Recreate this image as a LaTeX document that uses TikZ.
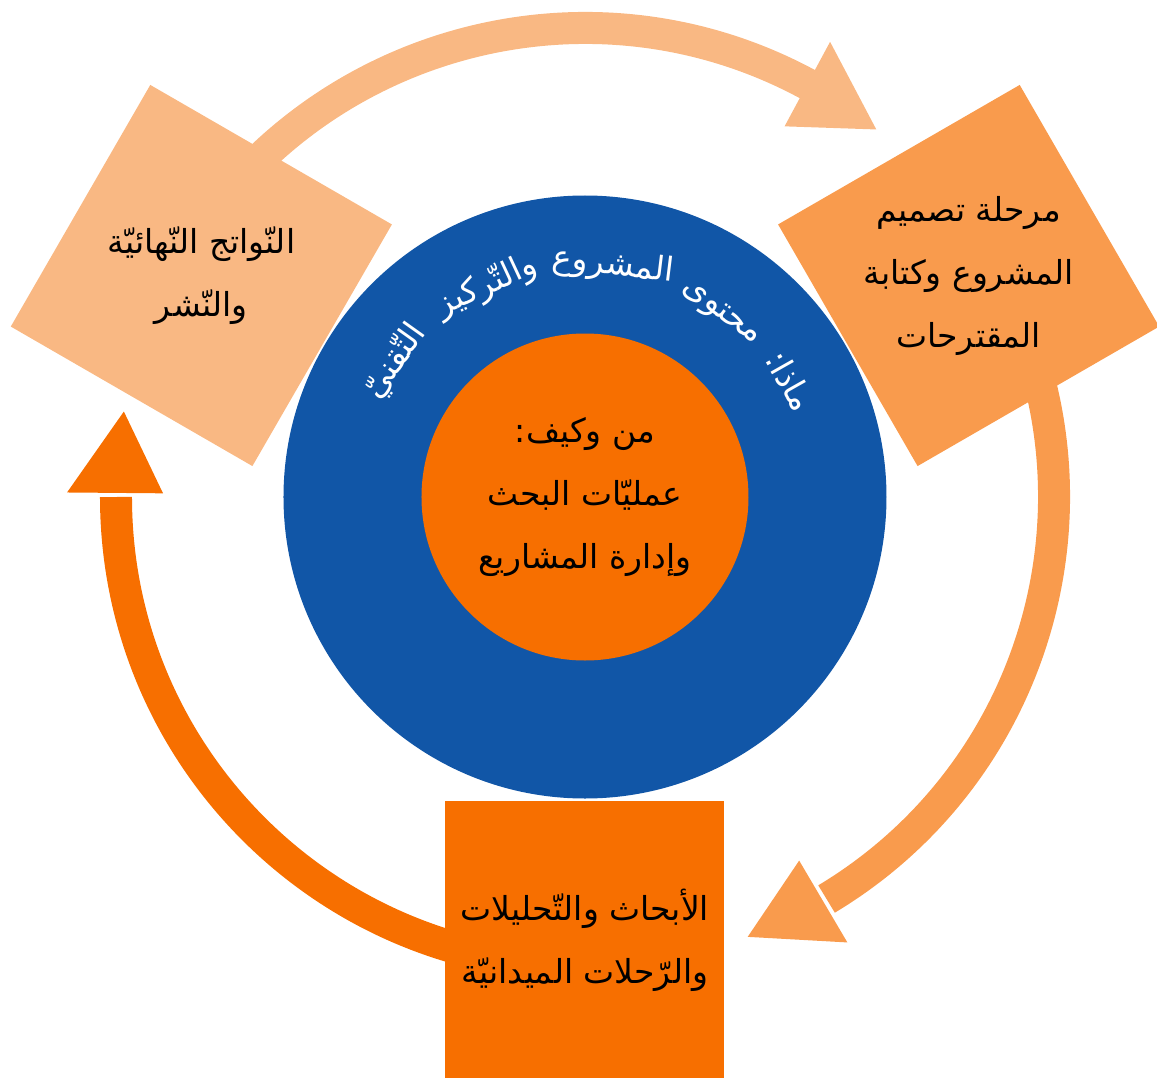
\documentclass[tikz,border=0pt]{standalone}
\usepackage{fontspec}
\newfontfamily\arabicfont[Script=Arabic]{DejaVu Sans}
\TeXXeTstate=1
\definecolor{lightor}{RGB}{249,184,131}
\definecolor{midor}{RGB}{249,155,77}
\definecolor{darkor}{RGB}{247,111,0}
\definecolor{coreblue}{RGB}{17,86,167}
\newcommand{\ar}[1]{\beginR #1\endR}

\begin{document}
\begin{tikzpicture}[x=1pt,y=1pt,
  stagebox/.style={rectangle,minimum size=279pt,inner sep=0pt},
  stagetext/.style={align=center,inner sep=0pt,font=\arabicfont\fontsize{33}{63}\selectfont},
  rimword/.style={white,anchor=base,inner sep=0pt,font=\arabicfont\fontsize{33}{40}\selectfont}]
\useasboundingbox (-585,-580) rectangle (572,497);
\coordinate (O) at (0,0);

\draw[lightor,line width=32pt] (150:469pt) arc[start angle=150,end angle=61.2,radius=469pt];
\fill[lightor] (61.7:421pt) -- (61.7:517pt) -- (51.6:469pt) -- cycle;
\draw[midor,line width=32pt] (30:469pt) arc[start angle=30,end angle=-59,radius=469pt];
\fill[midor] (-59.5:422pt) -- (-59.5:517pt) -- (-69.7:469pt) -- cycle;
\draw[darkor,line width=32pt] (270:469pt) arc[start angle=270,end angle=180,radius=469pt];
\fill[darkor] (179.5:422pt) -- (179.5:518pt) -- (169.5:469pt) -- cycle;

\node[stagebox,fill=lightor,rotate=-30] (publish) at (150:443pt) {};
\node[stagebox,fill=midor,rotate=30] (design) at (30:443pt) {};
\node[stagebox,fill=darkor] (field) at (270:443pt) {};

\node[stagetext] (publishtxt) at (publish) {\ar{النّواتج النّهائيّة}\\\ar{والنّشر}};
\node[stagetext] (designtxt) at (design) {\ar{مرحلة تصميم}\\\ar{المشروع وكتابة}\\\ar{المقترحات}};
\node[stagetext] (fieldtxt) at (field) {\ar{الأبحاث والتّحليلات}\\\ar{والرّحلات الميدانيّة}};

\node[circle,fill=coreblue,minimum size=603pt,inner sep=0pt] (what) at (O) {};
\node[circle,fill=darkor,minimum size=327pt,inner sep=0pt] (how) at (O) {};
\node[stagetext] (howtxt) at (how) {\ar{من وكيف:}\\\ar{عمليّات البحث}\\\ar{وإدارة المشاريع}};

\foreach \w/\a [count=\i] in {ماذا:/29.5,محتوى/53.5,المشروع/83,والتّركيز/115,التّقنيّ/144.5}
  \node[rimword,rotate=\a-90] (rim\i) at (\a:224pt) {\ar{\w}};
\end{tikzpicture}
\end{document}
